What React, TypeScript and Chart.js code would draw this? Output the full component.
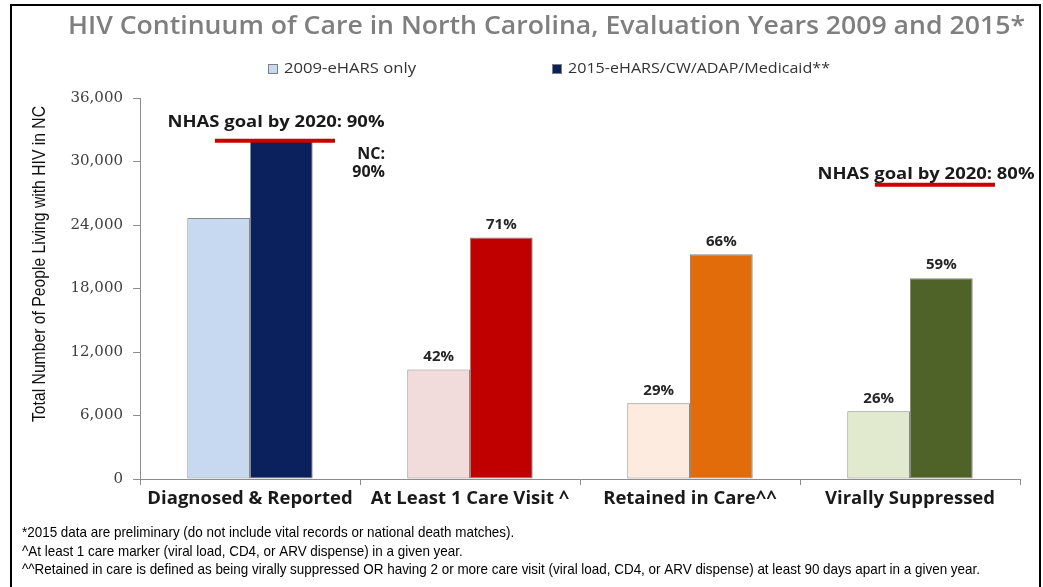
import React, { useEffect, useRef } from "react";
import { Chart, registerables } from "chart.js";

Chart.register(...registerables);

const chartTitle = "HIV Continuum of Care in North Carolina, Evaluation Years 2009 and 2015*";
const yAxisTitle = "Total Number of People Living with HIV in NC";
const categories = ["Diagnosed & Reported", "At Least 1 Care Visit ^", "Retained in Care^^", "Virally Suppressed"];
const label2009 = "2009-eHARS only";
const label2015 = "2015-eHARS/CW/ADAP/Medicaid**";
const values2009 = [24650, 10350, 7150, 6400];
const values2015 = [32000, 22830, 21230, 18970];
const pct2009 = [null, "42%", "29%", "26%"];
const pct2015 = [null, "71%", "66%", "59%"];
const colors2009 = ["#c6d9f0", "#f2dcdb", "#fcebde", "#e1e9cf"];
const colors2015 = ["#0b215d", "#c00000", "#e36c0a", "#4f6228"];
const goalLabels = ["NHAS goal by 2020: 90%", "NHAS goal by 2020: 80%"];
const goalValues = [31950, 27800];
const goalCategories = [0, 3];
const ncLabelLines = ["NC:", "90%"];
const yMax = 36000;
const yStep = 6000;
const footnotes = [
  "*2015 data are preliminary (do not include vital records or national death matches).",
  "^At least 1 care marker (viral load, CD4, or ARV dispense) in a given year.",
  "^^Retained in care is defined as being virally suppressed OR having 2 or more care visit (viral load, CD4, or ARV dispense) at least 90 days apart in a given year.",
];

const ARIAL = "'Liberation Sans', Arial, sans-serif";
const SANS = "'Open Sans', 'Noto Sans', sans-serif";

// draw text horizontally scaled so that its width equals `width`
function fitText(
  ctx: CanvasRenderingContext2D,
  text: string,
  x: number,
  y: number,
  width: number,
  align: "left" | "center" | "right"
) {
  const w = ctx.measureText(text).width;
  const sx = width / w;
  ctx.save();
  ctx.translate(x, y);
  ctx.scale(sx, 1);
  ctx.textAlign = align;
  ctx.fillText(text, 0, 0);
  ctx.restore();
}

const decorPlugin = {
  id: "decor",
  afterDatasetsDraw(chart: any) {
    const ctx = chart.ctx as CanvasRenderingContext2D;
    const xs = chart.scales.x;
    const ys = chart.scales.y;
    ctx.save();
    // percentage labels
    ctx.font = `bold 15px ${SANS}`;
    ctx.fillStyle = "#262626";
    ctx.textAlign = "center";
    ctx.textBaseline = "middle";
    const pcts = [pct2009, pct2015];
    [0, 1].forEach((d) => {
      const meta = chart.getDatasetMeta(d);
      meta.data.forEach((bar: any, i: number) => {
        const t = pcts[d][i];
        if (t) ctx.fillText(t, bar.x, bar.y - 13);
      });
    });
    // goal lines + labels
    const textShift = [26, 16];
    const textLift = [18, 10];
    goalCategories.forEach((ci, k) => {
      const cx = xs.getPixelForValue(ci);
      const gy = ys.getPixelForValue(goalValues[k]);
      ctx.strokeStyle = "#cc0000";
      ctx.lineWidth = 4;
      ctx.beginPath();
      ctx.moveTo(cx - 35, gy);
      ctx.lineTo(cx + 85, gy);
      ctx.stroke();
      ctx.font = `bold 16px ${SANS}`;
      ctx.fillStyle = "#1a1a1a";
      fitText(ctx, goalLabels[k], cx + textShift[k], gy - textLift[k], 217, "center");
    });
    // NC: 90%
    {
      const cx = xs.getPixelForValue(goalCategories[0]);
      const gy = ys.getPixelForValue(goalValues[0]);
      ctx.textAlign = "right";
      ctx.font = `bold 16px ${SANS}`;
      ncLabelLines.forEach((t, i) => ctx.fillText(t, cx + 135, gy + 14 + i * 18));
    }
    ctx.restore();
  },
  afterDraw(chart: any) {
    const ctx = chart.ctx as CanvasRenderingContext2D;
    ctx.save();
    ctx.textBaseline = "middle";
    // title
    ctx.font = `600 25px ${SANS}`;
    ctx.fillStyle = "#7f7f7f";
    fitText(ctx, chartTitle, 546.5, 27, 957, "center");
    // legend
    const ds = chart.data.datasets;
    const legendX = [268, 552];
    const legendW = [132, 262];
    ctx.font = `14px ${SANS}`;
    ds.forEach((d: any, i: number) => {
      const bx = legendX[i];
      ctx.fillStyle = d.backgroundColor[0];
      ctx.fillRect(bx, 64, 10, 10);
      ctx.strokeStyle = "#7f7f7f";
      ctx.lineWidth = 1;
      ctx.strokeRect(bx + 0.5, 64.5, 9, 9);
      ctx.fillStyle = "#333333";
      fitText(ctx, d.label, bx + 16, 69.5, legendW[i], "left");
    });
    // y axis title
    ctx.save();
    ctx.translate(40, 264);
    ctx.rotate(-Math.PI / 2);
    ctx.font = `19px ${ARIAL}`;
    ctx.fillStyle = "#111111";
    fitText(ctx, yAxisTitle, 0, 0, 316, "center");
    ctx.restore();
    // footnotes (narrow)
    ctx.font = `15px ${ARIAL}`;
    ctx.fillStyle = "#000000";
    const lastW = ctx.measureText(footnotes[2]).width;
    const sx = 958 / lastW;
    footnotes.forEach((t, i) => {
      ctx.save();
      ctx.translate(22, 533 + i * 18.5);
      ctx.scale(sx, 1);
      ctx.textAlign = "left";
      ctx.fillText(t, 0, 0);
      ctx.restore();
    });
    ctx.restore();
  },
};

export default function App() {
  const ref = useRef<HTMLCanvasElement>(null);
  useEffect(() => {
    if (!ref.current) return;
    const chart = new Chart(ref.current, {
      type: "bar",
      data: {
        labels: categories,
        datasets: [
          {
            label: label2009,
            data: values2009,
            backgroundColor: colors2009,
            borderColor: "#8a8a8a",
            borderWidth: 1,
            borderSkipped: false,
            barPercentage: 1,
            categoryPercentage: 0.57,
          },
          {
            label: label2015,
            data: values2015,
            backgroundColor: colors2015,
            borderColor: "#8a8a8a",
            borderWidth: 1,
            borderSkipped: false,
            barPercentage: 1,
            categoryPercentage: 0.57,
          },
        ],
      },
      options: {
        responsive: false,
        animation: false,
        devicePixelRatio: 1,
        layout: { padding: { top: 98, right: 23, left: 0, bottom: 0 } },
        plugins: {
          legend: { display: false },
          title: { display: false },
          tooltip: { enabled: false },
        },
        scales: {
          x: {
            afterFit: (s: any) => {
              s.height = 108;
            },
            grid: { display: true, drawOnChartArea: false, drawTicks: true, tickLength: 6, color: "#8c8c8c", offset: true },
            border: { display: true, color: "#8c8c8c", width: 1 },
            ticks: {
              autoSkip: false,
              maxRotation: 0,
              padding: 3,
              color: "#1a1a1a",
              font: { family: SANS, weight: "bold", size: 18.5 },
            },
          },
          y: {
            min: 0,
            max: yMax,
            afterFit: (s: any) => {
              s.width = 140;
            },
            grid: { display: true, drawOnChartArea: false, drawTicks: true, tickLength: 7, color: "#8c8c8c" },
            border: { display: true, color: "#8c8c8c", width: 1 },
            ticks: {
              stepSize: yStep,
              padding: 10,
              color: "#404040",
              font: { family: "'DejaVu Serif', serif", size: 15 },
            },
          },
        },
      },
      plugins: [decorPlugin],
    });
    return () => chart.destroy();
  }, []);
  return (
    <div style={{ position: "absolute", left: 0, top: 0, width: 1043, height: 587, overflow: "hidden", background: "#fff" }}>
      <div
        style={{
          position: "absolute",
          left: 10,
          top: 4,
          width: 1031,
          height: 700,
          border: "2px solid #000",
          boxSizing: "border-box",
        }}
      />
      <canvas ref={ref} width={1043} height={587} style={{ position: "absolute", left: 0, top: 0 }} />
    </div>
  );
}
